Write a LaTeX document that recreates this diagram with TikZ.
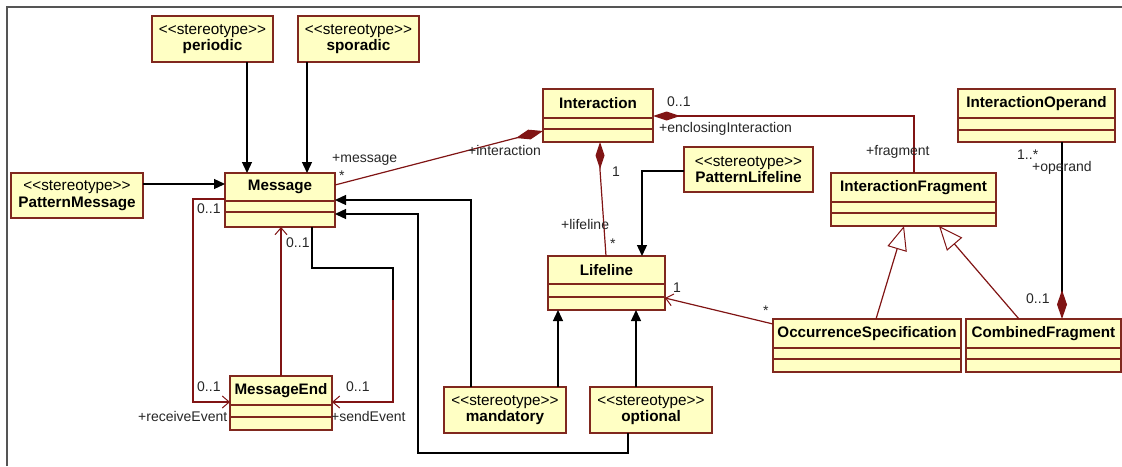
\documentclass[tikz,border=0pt]{standalone}
\usepackage{fontspec}
\setmainfont{Liberation Sans}[Ligatures=TeXOff]
\usetikzlibrary{arrows.meta,calc}
\definecolor{clsfill}{RGB}{255,255,196}
\definecolor{clsdraw}{RGB}{128,40,30}
\definecolor{assoc}{RGB}{128,20,20}
\definecolor{framec}{RGB}{85,85,85}
\newcommand\umlcls[8]{%
  \node[clsbox, anchor=north west, minimum width={#4-#2}, minimum height={#5-#3}] (#1) at (#2,#3) {};
  \draw[clsline] (#2,#6) -- (#4,#6) (#2,#7) -- (#4,#7);
  \node[clsname] (#1-name) at ({(#2+#4)/2},{(#3+#6)/2}) {#8};
}
\newcommand\umlstereo[6]{%
  \node[clsbox, anchor=north west, minimum width={#4-#2}, minimum height={#5-#3}, align=center,
        font=\fontsize{15.3}{16.5}\selectfont] (#1) at (#2,#3) {<<stereotype>>\\\bfseries #6};
}
\begin{document}
\begin{tikzpicture}[x=1pt,y=-1pt,
  clsbox/.style={draw=clsdraw, fill=clsfill, line width=1.2pt, inner sep=0pt, outer sep=0pt},
  clsline/.style={draw=clsdraw, line width=1.2pt},
  clsname/.style={font=\fontsize{15.2}{17}\selectfont\bfseries, inner sep=0pt},
  lbl/.style={font=\fontsize{14}{15}\selectfont, inner sep=0pt, anchor=west, text=black!85},
  dep/.style={draw=black, line width=1.3pt, -{Triangle[length=11pt,width=10pt]}},
  dark/.style={draw=black, line width=1.3pt},
  asc/.style={draw=assoc, line width=1.2pt},
  nav/.style={asc, -{Straight Barb[length=7pt,width=12pt,line width=1pt]}},
  gen/.style={asc, -{Triangle[open,length=24pt,width=20pt,fill=white,line width=1pt]}},
]
\useasboundingbox (0,0) rectangle (1122,466);
\draw[framec, line width=1.8pt] (7,466) -- (7,7) -- (1122,7);

% stereotype boxes
\umlstereo{periodic}{152}{16}{273}{62}{periodic}
\umlstereo{sporadic}{298}{16}{419}{62}{sporadic}
\umlstereo{pmsg}{11}{173}{143}{218}{PatternMessage}
\umlstereo{plife}{684}{147}{813}{192}{PatternLifeline}
\umlstereo{mand}{444}{387}{566}{433}{mandatory}
\umlstereo{opt}{590}{387}{712}{433}{optional}

% classes
\umlcls{msg}{225}{173}{335}{227}{201}{212}{Message}
\umlcls{mend}{230}{376}{332}{430}{405}{417}{MessageEnd}
\umlcls{inter}{543}{89}{653}{142}{118}{129}{Interaction}
\umlcls{life}{548}{256}{665}{310}{284}{297}{Lifeline}
\umlcls{ifrag}{831}{173}{996}{226}{202}{213}{InteractionFragment}
\umlcls{iop}{958}{89}{1115}{142}{118}{130}{InteractionOperand}
\umlcls{occ}{773}{319}{961}{372}{348}{359}{OccurrenceSpecification}
\umlcls{comb}{966}{319}{1121}{372}{348}{359}{CombinedFragment}

% black dependency arrows
\draw[dep] (periodic.south -| 247,0) -- (msg.north -| 247,0);
\draw[dep] (sporadic.south -| 307,0) -- (msg.north -| 307,0);
\draw[dep] (pmsg.east |- 0,184) -- (msg.west |- 0,184);
\draw[dep] (mand.north -| 471,0) |- (msg.east |- 0,200);
\draw[dep] (opt.south -| 628,0) |- (418,453) |- (msg.east |- 0,214);
\draw[dep] (mand.north -| 558,0) -- (life.south -| 558,0);
\draw[dep] (opt.north -| 636,0) -- (life.south -| 636,0);
\draw[dep] (plife.west |- 0,171) -| (life.north -| 642,0);

% associations / compositions
\draw[asc, -{Diamond[length=28pt,width=10pt]}] (msg.east |- 0,185) -- (inter.west |- 0,131);
\draw[asc, {Diamond[length=27pt,width=9pt]}-] (inter.south -| 600,0) -- (600,170) -- (life.north -| 606,0);
\draw[asc, {Diamond[length=27pt,width=9pt]}-] (inter.east |- 0,116) -| (ifrag.north -| 914,0);
\draw[dark, -{Diamond[length=29pt,width=10pt,color=assoc,fill=assoc]}] (iop.south -| 1062,0) -- (comb.north -| 1062,0);
\draw[nav] (occ.west |- 0,324) -- (life.east |- 0,298);
\draw[gen] (occ.north -| 876,0) -- (ifrag.south -| 904,0);
\draw[gen] (comb.north -| 1019,0) -- (ifrag.south -| 939,0);
\draw[nav] (mend.north -| 281,0) -- (msg.south -| 281,0);
\draw[nav] (msg.west |- 0,199) -| (193,300) |- (mend.west |- 0,402);
\draw[dark] (msg.south -| 312,0) |- (393,268) -- (393,300);
\draw[nav] (393,300) |- (mend.east |- 0,402);

% labels
\node[lbl] (l-msg) at (332,160) {+message};
\node[lbl] (l-msgs) at (339,176) {*};
\node[lbl] (l-int) at (468,150) {+interaction};
\node[lbl] (l-e01) at (667,102) {0..1};
\node[lbl] (l-enc) at (659,129) {+enclosingInteraction};
\node[lbl] (l-one) at (612,172) {1};
\node[lbl] (l-lif) at (561,224) {+lifeline};
\node[lbl] (l-lifs) at (610,244) {*};
\node[lbl] (l-frag) at (866,152) {+fragment};
\node[lbl] (l-opm) at (1017,155) {1..*};
\node[lbl] (l-op) at (1032,168) {+operand};
\node[lbl] (l-c01) at (1026,299) {0..1};
\node[lbl] (l-l1) at (673,288) {1};
\node[lbl] (l-os) at (763,311) {*};
\node[lbl] (l-m01a) at (197,209) {0..1};
\node[lbl] (l-m01b) at (286,243) {0..1};
\node[lbl] (l-r01) at (197,387) {0..1};
\node[lbl] (l-rcv) at (138,416) {+receiveEvent};
\node[lbl] (l-s01) at (346,387) {0..1};
\node[lbl] (l-snd) at (331,416) {+sendEvent};
\end{tikzpicture}
\end{document}
